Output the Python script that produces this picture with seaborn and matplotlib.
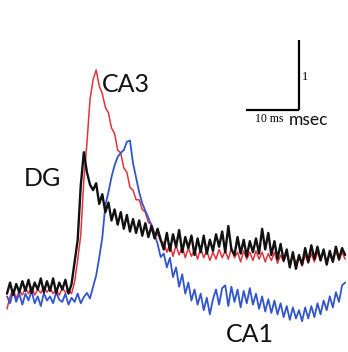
import numpy as np
import pandas as pd
import matplotlib
matplotlib.use("Agg")
import matplotlib.pyplot as plt
import seaborn as sns

# ---- data (time in ms, response in scale-bar units) ----
t_start = 1.32
t_step = 0.58

dg_vals = [0.02, 0.18, 0.00, 0.16, 0.04, 0.20, 0.06, 0.22, 0.03, 0.18,
           0.08, 0.24, 0.04, 0.20, 0.06, 0.24, 0.03, 0.18, 0.08, 0.22,
           0.02, 0.16,
           0.48, 0.80, 1.59, 2.07,
           1.78, 1.60, 1.52, 1.62, 1.32, 1.46, 1.20, 1.34, 1.08, 1.24,
           1.02, 1.20, 0.96, 1.16, 0.92, 1.10, 0.90, 1.08, 0.86, 1.04,
           0.84, 1.00, 0.82, 0.96, 0.80,
           0.66, 0.90, 0.64, 0.88, 0.70, 0.94, 0.62, 0.84, 0.68, 0.86,
           0.58, 0.82, 0.62, 0.86, 0.60, 0.80, 0.64, 0.88, 0.70, 0.92,
           0.62, 1.00, 0.66, 0.58, 0.84, 0.60, 0.80, 0.56, 0.78, 0.62,
           0.82, 0.60, 0.96, 0.66, 0.90, 0.58, 0.78, 0.52, 0.74, 0.50,
           0.66, 0.40, 0.62, 0.38, 0.58, 0.44, 0.68, 0.48, 0.72, 0.52,
           0.70, 0.50, 0.66, 0.44, 0.64, 0.48, 0.70, 0.52, 0.68, 0.58]

ca3_vals = [-0.20, -0.02, 0.08, -0.05, 0.06, 0.00, 0.10, 0.02, 0.12, 0.00,
            0.08, 0.03, 0.12, 0.04, 0.10, 0.02, 0.08, 0.00, 0.10, 0.04,
            0.07, 0.02,
            0.19, 0.51, 0.87, 1.67, 2.20, 2.83, 3.12, 3.26,
            3.03, 2.92, 2.72, 2.64, 2.42, 2.34, 2.10, 2.06, 1.84, 1.78,
            1.56, 1.52, 1.38, 1.38, 1.24, 1.20, 1.05, 1.03, 0.90, 0.88,
            0.78,
            0.76, 0.62, 0.74, 0.56, 0.72, 0.58, 0.70, 0.54, 0.68, 0.56,
            0.66, 0.52, 0.68, 0.54, 0.64, 0.50, 0.62, 0.52, 0.66, 0.54,
            0.64, 0.52, 0.68, 0.54, 0.62, 0.48, 0.64, 0.52, 0.62, 0.50,
            0.64, 0.52, 0.62, 0.48, 0.60, 0.50, 0.62, 0.46, 0.58, 0.48,
            0.60, 0.44, 0.58, 0.46, 0.56, 0.42, 0.58, 0.46, 0.60, 0.48,
            0.62, 0.50, 0.64, 0.46, 0.60, 0.48, 0.64, 0.50, 0.62, 0.52]

ca1_vals = [-0.02, -0.12, 0.06, -0.10, 0.02, -0.14, 0.02, -0.08, 0.06, -0.12,
            -0.02, -0.16, 0.03, -0.08, -0.02, -0.12, 0.04, -0.07, -0.10, 0.02,
            -0.14, -0.04, -0.10, 0.02, -0.12, -0.03, 0.03, -0.05,
            0.12, 0.28, 0.54, 0.83, 1.30, 1.49, 1.71, 1.88, 2.00, 2.06,
            2.10, 2.22, 2.24, 1.91, 1.70, 1.49, 1.33, 1.22, 1.12, 1.00,
            0.88, 0.74, 0.55,
            0.60, 0.40, 0.54, 0.26, 0.40, 0.12, 0.30, 0.02, 0.18, -0.08,
            0.08, -0.14, 0.02, -0.22, -0.04, -0.28, -0.06, 0.08, -0.14, 0.10,
            0.14, -0.16, 0.12, -0.10, 0.08, -0.18, 0.06, -0.12, 0.10, -0.14,
            0.02, -0.20, -0.02, -0.24, -0.06, -0.26, -0.08, -0.28, -0.12, -0.32,
            -0.16, -0.36, -0.18, -0.34, -0.22, -0.38, -0.18, -0.34, -0.16, -0.32,
            -0.12, -0.28, -0.08, -0.22, -0.02, -0.18, 0.04, -0.10, 0.14, 0.18]

labels = ["CA3", "DG", "CA1"]
scale_time_label = "10 ms"
scale_unit_label = "msec"
scale_amp_label = "1"

# ---- layout helpers (pixel -> data) ----
PX_PER_MS = 5.3
PX_PER_UNIT = 69.0
BASE_PX = 295.0
W, H = 348, 352


def tx(px):
    return px / PX_PER_MS


def ty(py):
    return (BASE_PX - py) / PX_PER_UNIT


n = len(dg_vals)
t = t_start + t_step * np.arange(n)
df = pd.concat([
    pd.DataFrame({"t": t, "v": ca3_vals, "trace": "CA3"}),
    pd.DataFrame({"t": t, "v": ca1_vals, "trace": "CA1"}),
    pd.DataFrame({"t": t, "v": dg_vals, "trace": "DG"}),
])

sns.set_style("white")
plt.rcParams['font.family'] = ['Lato', 'DejaVu Sans']

fig = plt.figure(figsize=(W / 100, H / 100), dpi=100)
fig.patch.set_facecolor("white")
ax = fig.add_axes([0, 0, 1, 1])
ax.set_facecolor("white")

styles = {"CA3": ("#e0343c", 1.1), "CA1": ("#3355cc", 1.3), "DG": ("#111111", 1.7)}
for name in ["CA3", "CA1", "DG"]:
    col, lw = styles[name]
    sns.lineplot(data=df[df.trace == name], x="t", y="v", color=col,
                 linewidth=lw, estimator=None, sort=False, ax=ax, legend=False)

# scale bar
ax.plot([tx(246), tx(299)], [ty(110), ty(110)], color="black", lw=1.6,
        solid_capstyle="butt")
ax.plot([tx(299), tx(299)], [ty(110), ty(40)], color="black", lw=1.6,
        solid_capstyle="butt")
ax.text(tx(302), ty(77), scale_amp_label, family=["Liberation Serif"],
        fontsize=9, va="center", ha="left", color="black")
ax.text(tx(255), ty(122), scale_time_label, family=["Liberation Serif"],
        fontsize=8.5, va="baseline", ha="left", color="black")
ax.text(tx(289), ty(125), scale_unit_label, fontsize=12.5, va="baseline",
        ha="left", color="#111111")

# trace labels
ax.text(tx(102), ty(92), labels[0], fontsize=18, va="baseline", ha="left",
        color="#111111")
ax.text(tx(24), ty(186), labels[1], fontsize=18, va="baseline", ha="left",
        color="#111111")
ax.text(tx(226), ty(342), labels[2], fontsize=18, va="baseline", ha="left",
        color="#111111")

ax.set_xlim(0, tx(W))
ax.set_ylim(ty(H), ty(0))
ax.axis("off")

fig.savefig("out.png", dpi=100, facecolor="white")
